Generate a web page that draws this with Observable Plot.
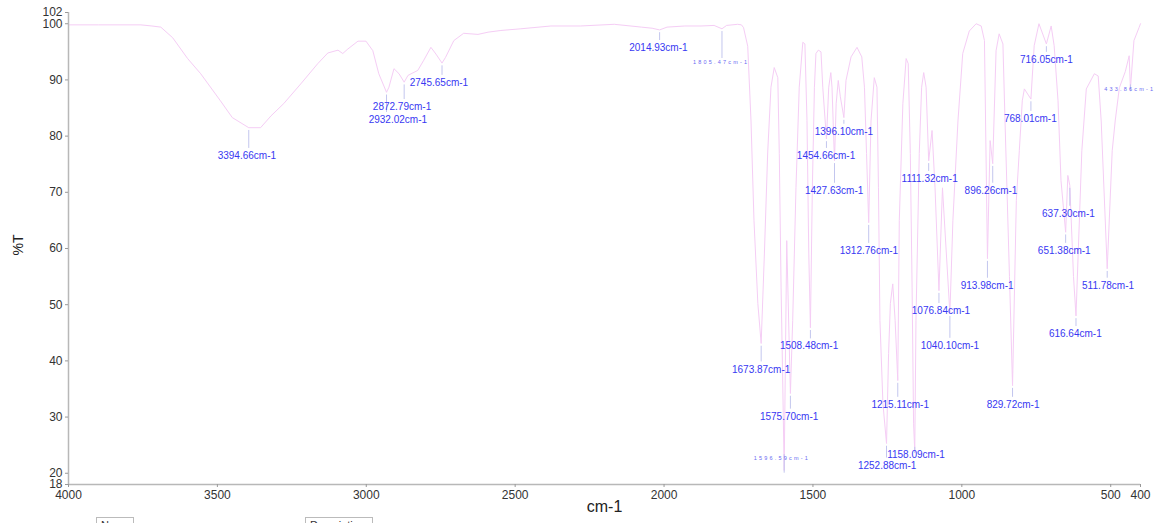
<!DOCTYPE html>
<html>
<head>
<meta charset="utf-8">
<script src="https://cdn.jsdelivr.net/npm/d3@7"></script>
<script src="https://cdn.jsdelivr.net/npm/@observablehq/plot@0.6"></script>
<style>
  html, body { margin: 0; padding: 0; background: #fff; overflow: hidden; }
  #wrap { position: relative; width: 1158px; height: 523px; }
  .hdr { position: absolute; top: 517px; height: 14px; border: 1px solid #bbb; border-bottom: none;
         font: 11px "Liberation Sans", Arial, sans-serif; color: #333; padding: 1px 4px; box-sizing: border-box; background: #fff; }
</style>
</head>
<body>
<div id="wrap"></div>
<script>
// Spectrum: wavenumber (cm-1) and transmittance (%T)
const wavenumber = [
  4000, 3900, 3757, 3720, 3690, 3650, 3600, 3556, 3490, 3450, 3394.66, 3355, 3320, 3277, 3220,
  3163, 3129, 3095, 3079, 3062, 3028, 3001, 2978, 2958, 2932.02, 2924, 2907, 2890, 2872.79,
  2860, 2827, 2807, 2783, 2766, 2745.65, 2734, 2706, 2673, 2625, 2591, 2548, 2481, 2380, 2281,
  2167, 2076, 2040, 2014.93, 1990, 1930, 1876, 1832, 1805.47, 1790, 1753, 1740, 1733, 1719,
  1708, 1698, 1685, 1673.87, 1663, 1652, 1641, 1630, 1618, 1613, 1607, 1602, 1596.59, 1588,
  1575.70, 1568, 1557, 1546, 1534, 1527, 1520, 1514, 1508.48, 1502, 1495, 1490, 1482, 1473,
  1467, 1454.66, 1447, 1440, 1436, 1427.63, 1422, 1415, 1408, 1396.10, 1389, 1372, 1352, 1336,
  1327, 1320, 1312.76, 1305, 1294, 1285, 1280, 1275, 1265, 1252.88, 1246, 1240, 1232, 1224,
  1215.11, 1210, 1198, 1187, 1180, 1173, 1167, 1162, 1158.09, 1154, 1143, 1135, 1128, 1120,
  1111.32, 1100, 1090, 1076.84, 1065, 1040.10, 1030, 1013, 997, 975, 952, 935, 924, 913.98,
  905, 896.26, 885, 874.7, 862, 855, 840, 829.72, 817, 807, 797, 790, 768.01, 757, 741, 716.05,
  700, 690, 677, 667, 651.38, 644, 637.30, 625, 616.64, 597, 582, 555, 542, 532, 511.78, 495,
  485, 471, 451, 438, 433.86, 422, 405, 400
];
const transmittance = [
  99.8, 99.8, 99.8, 99.6, 99.4, 97.5, 93.8, 91.1, 86.3, 83.3, 81.5, 81.5, 83.6, 85.8, 89.3,
  92.9, 94.8, 95.3, 94.7, 95.5, 96.9, 96.9, 95.2, 91.1, 87.8, 88.7, 92.0, 91.1, 89.6,
  90.8, 91.7, 93.5, 95.8, 94.6, 93.0, 94.0, 97.0, 98.3, 98.1, 98.5, 98.8, 99.1, 99.6, 99.6,
  99.9, 99.4, 99.2, 98.9, 99.4, 99.6, 99.6, 99.7, 99.1, 99.7, 99.9, 99.8, 99.3, 96.0,
  82.7, 65.0, 50.2, 43.1, 59.2, 77.0, 88.7, 92.2, 90.4, 76.9, 53.0, 38.0, 20.5, 61.4,
  34.2, 47.2, 70.8, 88.7, 96.7, 96.4, 82.8, 59.2, 45.9, 70.8, 88.7, 94.7, 95.3, 95.0,
  88.7, 79.5, 88.7, 91.3, 88.7, 75.6, 85.8, 89.9, 87.0, 83.3, 89.9, 94.1, 95.8, 94.1,
  88.7, 76.9, 64.6, 82.7, 90.4, 88.7, 70.8, 47.2, 32.4, 25.3, 41.3, 50.2, 53.7, 47.2,
  36.5, 65.0, 85.8, 93.8, 92.9, 76.9, 53.0, 28.8, 24.0, 47.2, 76.9, 88.7, 91.3, 88.7,
  75.6, 81.0, 70.8, 52.5, 70.8, 48.4, 65.0, 82.7, 94.7, 98.7, 100.0, 99.6, 97.0, 58.2,
  79.2, 75.1, 95.2, 98.2, 96.4, 82.7, 55.0, 35.6, 68.5, 77.4, 86.3, 88.4, 86.6, 96.1, 100.0, 96.4,
  99.6, 96.1, 86.3, 72.1, 62.9, 73.0, 71.2, 55.0, 48.0, 77.4, 88.4, 91.1, 90.7, 82.7, 56.4, 77.4,
  82.7, 88.6, 91.5, 94.3, 88.4, 97.0, 99.3, 100.0
];

// Peak annotations
const peakText = [
  "3394.66cm-1", "2932.02cm-1", "2872.79cm-1", "2745.65cm-1", "2014.93cm-1", "1805.47cm-1",
  "1673.87cm-1", "1596.59cm-1", "1575.70cm-1", "1508.48cm-1", "1454.66cm-1", "1427.63cm-1",
  "1396.10cm-1", "1312.76cm-1", "1252.88cm-1", "1215.11cm-1", "1158.09cm-1", "1111.32cm-1",
  "1076.84cm-1", "1040.10cm-1", "913.98cm-1", "896.26cm-1", "829.72cm-1", "768.01cm-1",
  "716.05cm-1", "651.38cm-1", "637.30cm-1", "616.64cm-1", "511.78cm-1", "433.86cm-1"
];
const peakWn = [
  3394.66, 2932.02, 2872.79, 2745.65, 2014.93, 1805.47, 1673.87, 1596.59, 1575.70, 1508.48,
  1454.66, 1427.63, 1396.10, 1312.76, 1252.88, 1215.11, 1158.09, 1111.32, 1076.84, 1040.10,
  913.98, 896.26, 829.72, 768.01, 716.05, 651.38, 637.30, 616.64, 511.78, 433.86
];
const peakT = [
  81.5, 87.8, 89.6, 93.0, 98.9, 99.1, 43.1, 20.5, 34.2, 45.9,
  79.5, 75.6, 83.3, 64.6, 25.3, 36.5, 24.0, 75.6, 52.5, 48.4,
  58.2, 75.1, 35.6, 86.6, 96.4, 62.9, 71.2, 48.0, 56.4, 88.4
];
const labelWn = [
  3401, 2894, 2880, 2756, 2019, 1808, 1674, 1604, 1580, 1513,
  1456, 1429, 1396, 1312, 1251, 1207, 1154, 1108, 1070, 1040,
  915, 902, 828, 770, 716, 656, 642, 619, 509, 436
];
const labelT = [
  76.5, 82.9, 85.2, 89.5, 95.7, 93.1, 38.5, 22.6, 30.1, 42.6,
  76.5, 70.3, 80.8, 59.6, 21.4, 32.2, 23.3, 72.4, 48.9, 42.7,
  53.4, 70.3, 32.2, 83.1, 93.6, 59.6, 66.2, 44.8, 53.4, 88.4
];
const tinyLabel = [false, false, false, false, false, true, false, true, false, false,
  false, false, false, false, false, false, false, false, false, false,
  false, false, false, false, false, false, false, false, false, true];

const xTicks = [4000, 3500, 3000, 2500, 2000, 1500, 1000, 500, 400];
const yTicks = [18, 20, 30, 40, 50, 60, 70, 80, 90, 100, 102];

const spectrum = wavenumber.map((w, i) => ({w, t: transmittance[i]}));
const peaks = peakText.map((s, i) => ({
  s, w: peakWn[i], t: peakT[i], lw: labelWn[i], lt: labelT[i], tiny: tinyLabel[i]
}));
const normal = peaks.filter(d => !d.tiny);
const tiny = peaks.filter(d => d.tiny);

const chart = Plot.plot({
  width: 1158,
  height: 523,
  marginLeft: 68,
  marginRight: 18,
  marginTop: 12,
  marginBottom: 39,
  style: {fontFamily: "'Liberation Sans', Arial, sans-serif", fontSize: "12px", color: "#333", background: "#fff"},
  x: {domain: [4000, 400]},
  y: {domain: [18, 102]},
  marks: [
    Plot.line(spectrum, {x: "w", y: "t", stroke: "#f5cdf5", strokeWidth: 1}),
    Plot.link(peaks, {x1: "w", x2: "w", y1: d => d.t - 0.4, y2: d => d.lt + (d.tiny ? 0.8 : 1.4),
      stroke: "#c3c6ee", strokeWidth: 1}),
    Plot.text(normal, {x: "lw", y: "lt", text: "s", fill: "#3838f2", fontSize: 10}),
    Plot.text(tiny, {x: "lw", y: "lt", text: "s", fill: "#6a6af2", fontSize: 5.5}),
    Plot.ruleX([4000], {stroke: "#b8b8b8", strokeWidth: 1.5}),
    Plot.ruleY([18], {stroke: "#b8b8b8", strokeWidth: 1.5}),
    Plot.axisX({ticks: xTicks, tickSize: 3, tickPadding: 3, label: null, stroke: "#999", tickFormat: d => String(d)}),
    Plot.axisY({ticks: yTicks, tickSize: 3, tickPadding: 3, label: null, stroke: "#999", tickFormat: d => String(d)}),
    Plot.text(["cm-1"], {frameAnchor: "bottom", dy: 27, fontSize: 16, fill: "#222"}),
    Plot.text(["%T"], {frameAnchor: "left", dx: -50, dy: 7, rotate: -90, fontSize: 14, fill: "#222"})
  ]
});
// spread the tiny labels' letters as in the original
d3.select(chart).selectAll("text").filter(function() {
  const g = this.closest("g");
  return g && g.getAttribute("font-size") === "5.5";
}).style("letter-spacing", "2.2px");
d3.select(chart).selectAll("g[font-size='5.5']").style("letter-spacing", "2.2px");

const wrap = document.getElementById("wrap");
wrap.appendChild(chart);
const h1 = document.createElement("div");
h1.className = "hdr"; h1.style.left = "96px"; h1.style.width = "38px"; h1.textContent = "Name";
const h2 = document.createElement("div");
h2.className = "hdr"; h2.style.left = "305px"; h2.style.width = "68px"; h2.textContent = "Description";
wrap.appendChild(h1); wrap.appendChild(h2);
chart.style.position = "absolute"; chart.style.left = "0"; chart.style.top = "0";
</script>
</body>
</html>
